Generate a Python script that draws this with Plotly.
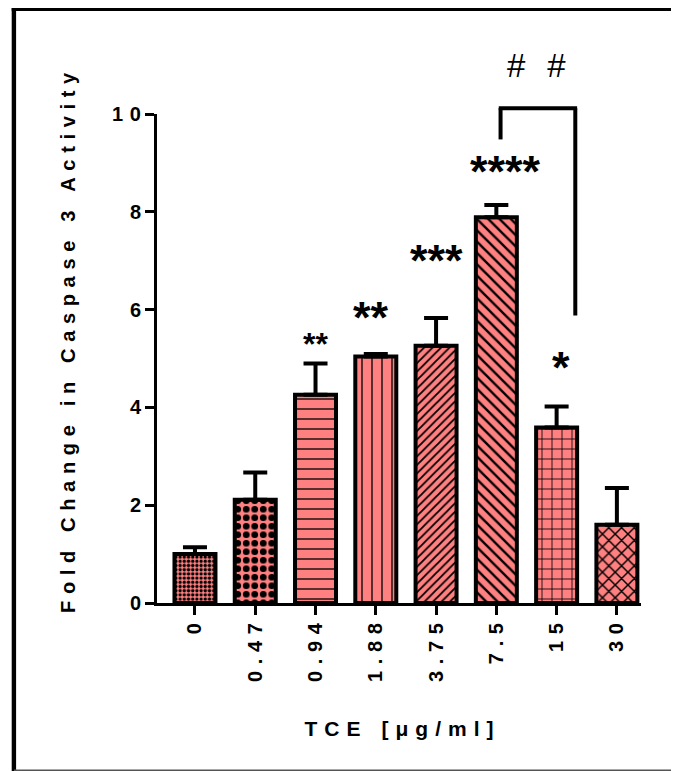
import plotly.graph_objects as go

# ---------------- data ----------------
doses = ["0", "0.47", "0.94", "1.88", "3.75", "7.5", "15", "30"]
fold_change = [1.00, 2.11, 4.26, 5.04, 5.26, 7.89, 3.59, 1.60]
sem = [0.14, 0.56, 0.64, 0.05, 0.57, 0.25, 0.43, 0.75]

y_ticks = [0, 2, 4, 6, 8, 10]

sig_labels = ["**", "**", "***", "****", "*"]
sig_x = [2.0, 2.92, 4.01, 5.15, 6.07]
sig_y = [5.37, 5.94, 7.11, 8.93, 4.92]
sig_size = [32, 45, 45, 45, 45]

bracket_x = [5.07, 6.31]
bracket_top = 10.12
bracket_left_end = 9.48
bracket_right_end = 5.88
hash_x, hash_y = 5.66, 11.0

# ---------------- styling ----------------
OFF = 8                       # page body margin of the html page
W, H = 679 - OFF, 771 - OFF
ML, MR, MT = 157 - OFF, 38, 114 - OFF
MB = H - (603 - OFF)
PW, PH = W - ML - MR, H - MT - MB
Y_MAX = 10

FONT = "Liberation Sans, Arial, sans-serif"
SALMON = "#FF8080"
SEP = "\u2004"


def spaced(s, sep=SEP):
    return sep.join(list(s))


def yp(v):  # data y -> paper y (range 0..Y_MAX over the whole domain)
    return v / Y_MAX


def px_x(p):  # page pixel -> paper x
    return (p - OFF - ML) / PW


def px_y(p):  # page pixel -> paper y
    return (H - MB - (p - OFF)) / PH


patterns = [".", ".", "-", "|", "/", "\\", "+", "x"]
pat_size = [4.2, 8.5, 10, 10, 6, 8, 10, 9]
pat_solid = [0.5, 0.5, 0.13, 0.13, 0.3, 0.3, 0.16, 0.3]

fig = go.Figure()
fig.add_trace(go.Bar(
    x=doses,
    y=fold_change,
    width=0.68,
    marker=dict(
        color=SALMON,
        line=dict(color="black", width=4),
        pattern=dict(shape=patterns, size=pat_size, solidity=pat_solid,
                     fgcolor="black", bgcolor=SALMON, fillmode="replace"),
    ),
    error_y=dict(type="data", array=sem, arrayminus=[0] * len(sem),
                 symmetric=False, color="black", thickness=4, width=12),
    showlegend=False,
))

bold = dict(family=FONT, size=20, color="black", weight="bold")

fig.update_layout(
    width=W, height=H,
    margin=dict(l=ML, r=MR, t=MT, b=MB, autoexpand=False),
    paper_bgcolor="white", plot_bgcolor="white",
    xaxis=dict(
        type="category",
        range=[-0.63, 7.40],
        tickmode="array", tickvals=doses, ticktext=[spaced(d) for d in doses],
        tickangle=-90,
        showline=True, linecolor="black", linewidth=3,
        ticks="outside", ticklen=9, tickwidth=3, tickcolor="black",
        tickfont=bold,
        showgrid=False, zeroline=False,
        title=dict(text=spaced("TCE") + "\u2003" + spaced("[μg/ml]"),
                   font=dict(family=FONT, size=21, color="black", weight="bold"),
                   standoff=41),
    ),
    yaxis=dict(
        range=[0, Y_MAX],
        tickmode="array", tickvals=y_ticks, ticktext=[spaced(str(v)) for v in y_ticks],
        showline=True, linecolor="black", linewidth=3,
        ticks="outside", ticklen=9, tickwidth=3, tickcolor="black",
        tickfont=bold,
        showgrid=False, zeroline=False,
    ),
)

# y axis title
fig.add_annotation(x=px_x(68), y=px_y(343), xref="paper", yref="paper",
                   text=spaced("Fold Change in Caspase 3 Activity", "\u2005\u200a"),
                   textangle=-90, showarrow=False, xanchor="center", yanchor="middle",
                   font=dict(family=FONT, size=20, color="black", weight="bold"))

# significance stars
for lab, x, y, s in zip(sig_labels, sig_x, sig_y, sig_size):
    fig.add_annotation(x=x, y=yp(y), xref="x", yref="paper", text=lab, showarrow=False,
                       font=dict(family=FONT, size=s, color="black", weight="bold"),
                       yshift=-0.11 * s, xanchor="center", yanchor="middle")

fig.add_annotation(x=hash_x, y=yp(hash_y), xref="x", yref="paper", text="#\u2002\u2006#",
                   showarrow=False, font=dict(family=FONT, size=33, color="black"),
                   xanchor="center", yanchor="middle")

# comparison bracket
bl = dict(color="black", width=4)
fig.add_shape(type="line", xref="x", yref="paper", x0=bracket_x[0], x1=bracket_x[0],
              y0=yp(bracket_left_end), y1=yp(bracket_top), line=bl)
fig.add_shape(type="line", xref="x", yref="paper", x0=bracket_x[0] - 0.03, x1=bracket_x[1] + 0.03,
              y0=yp(bracket_top), y1=yp(bracket_top), line=bl)
fig.add_shape(type="line", xref="x", yref="paper", x0=bracket_x[1], x1=bracket_x[1],
              y0=yp(bracket_top), y1=yp(bracket_right_end), line=bl)

# outer frame of the picture
fig.add_shape(type="line", xref="paper", yref="paper", x0=px_x(13.9), x1=px_x(13.9),
              y0=px_y(8), y1=px_y(771), line=dict(color="black", width=4.4))
fig.add_shape(type="line", xref="paper", yref="paper", x0=px_x(11.7), x1=px_x(679),
              y0=px_y(9.5), y1=px_y(9.5), line=dict(color="black", width=3))
fig.add_shape(type="line", xref="paper", yref="paper", x0=px_x(14), x1=px_x(679),
              y0=px_y(770.2), y1=px_y(770.2), line=dict(color="#555555", width=1.5))

fig.write_html("out.html")
